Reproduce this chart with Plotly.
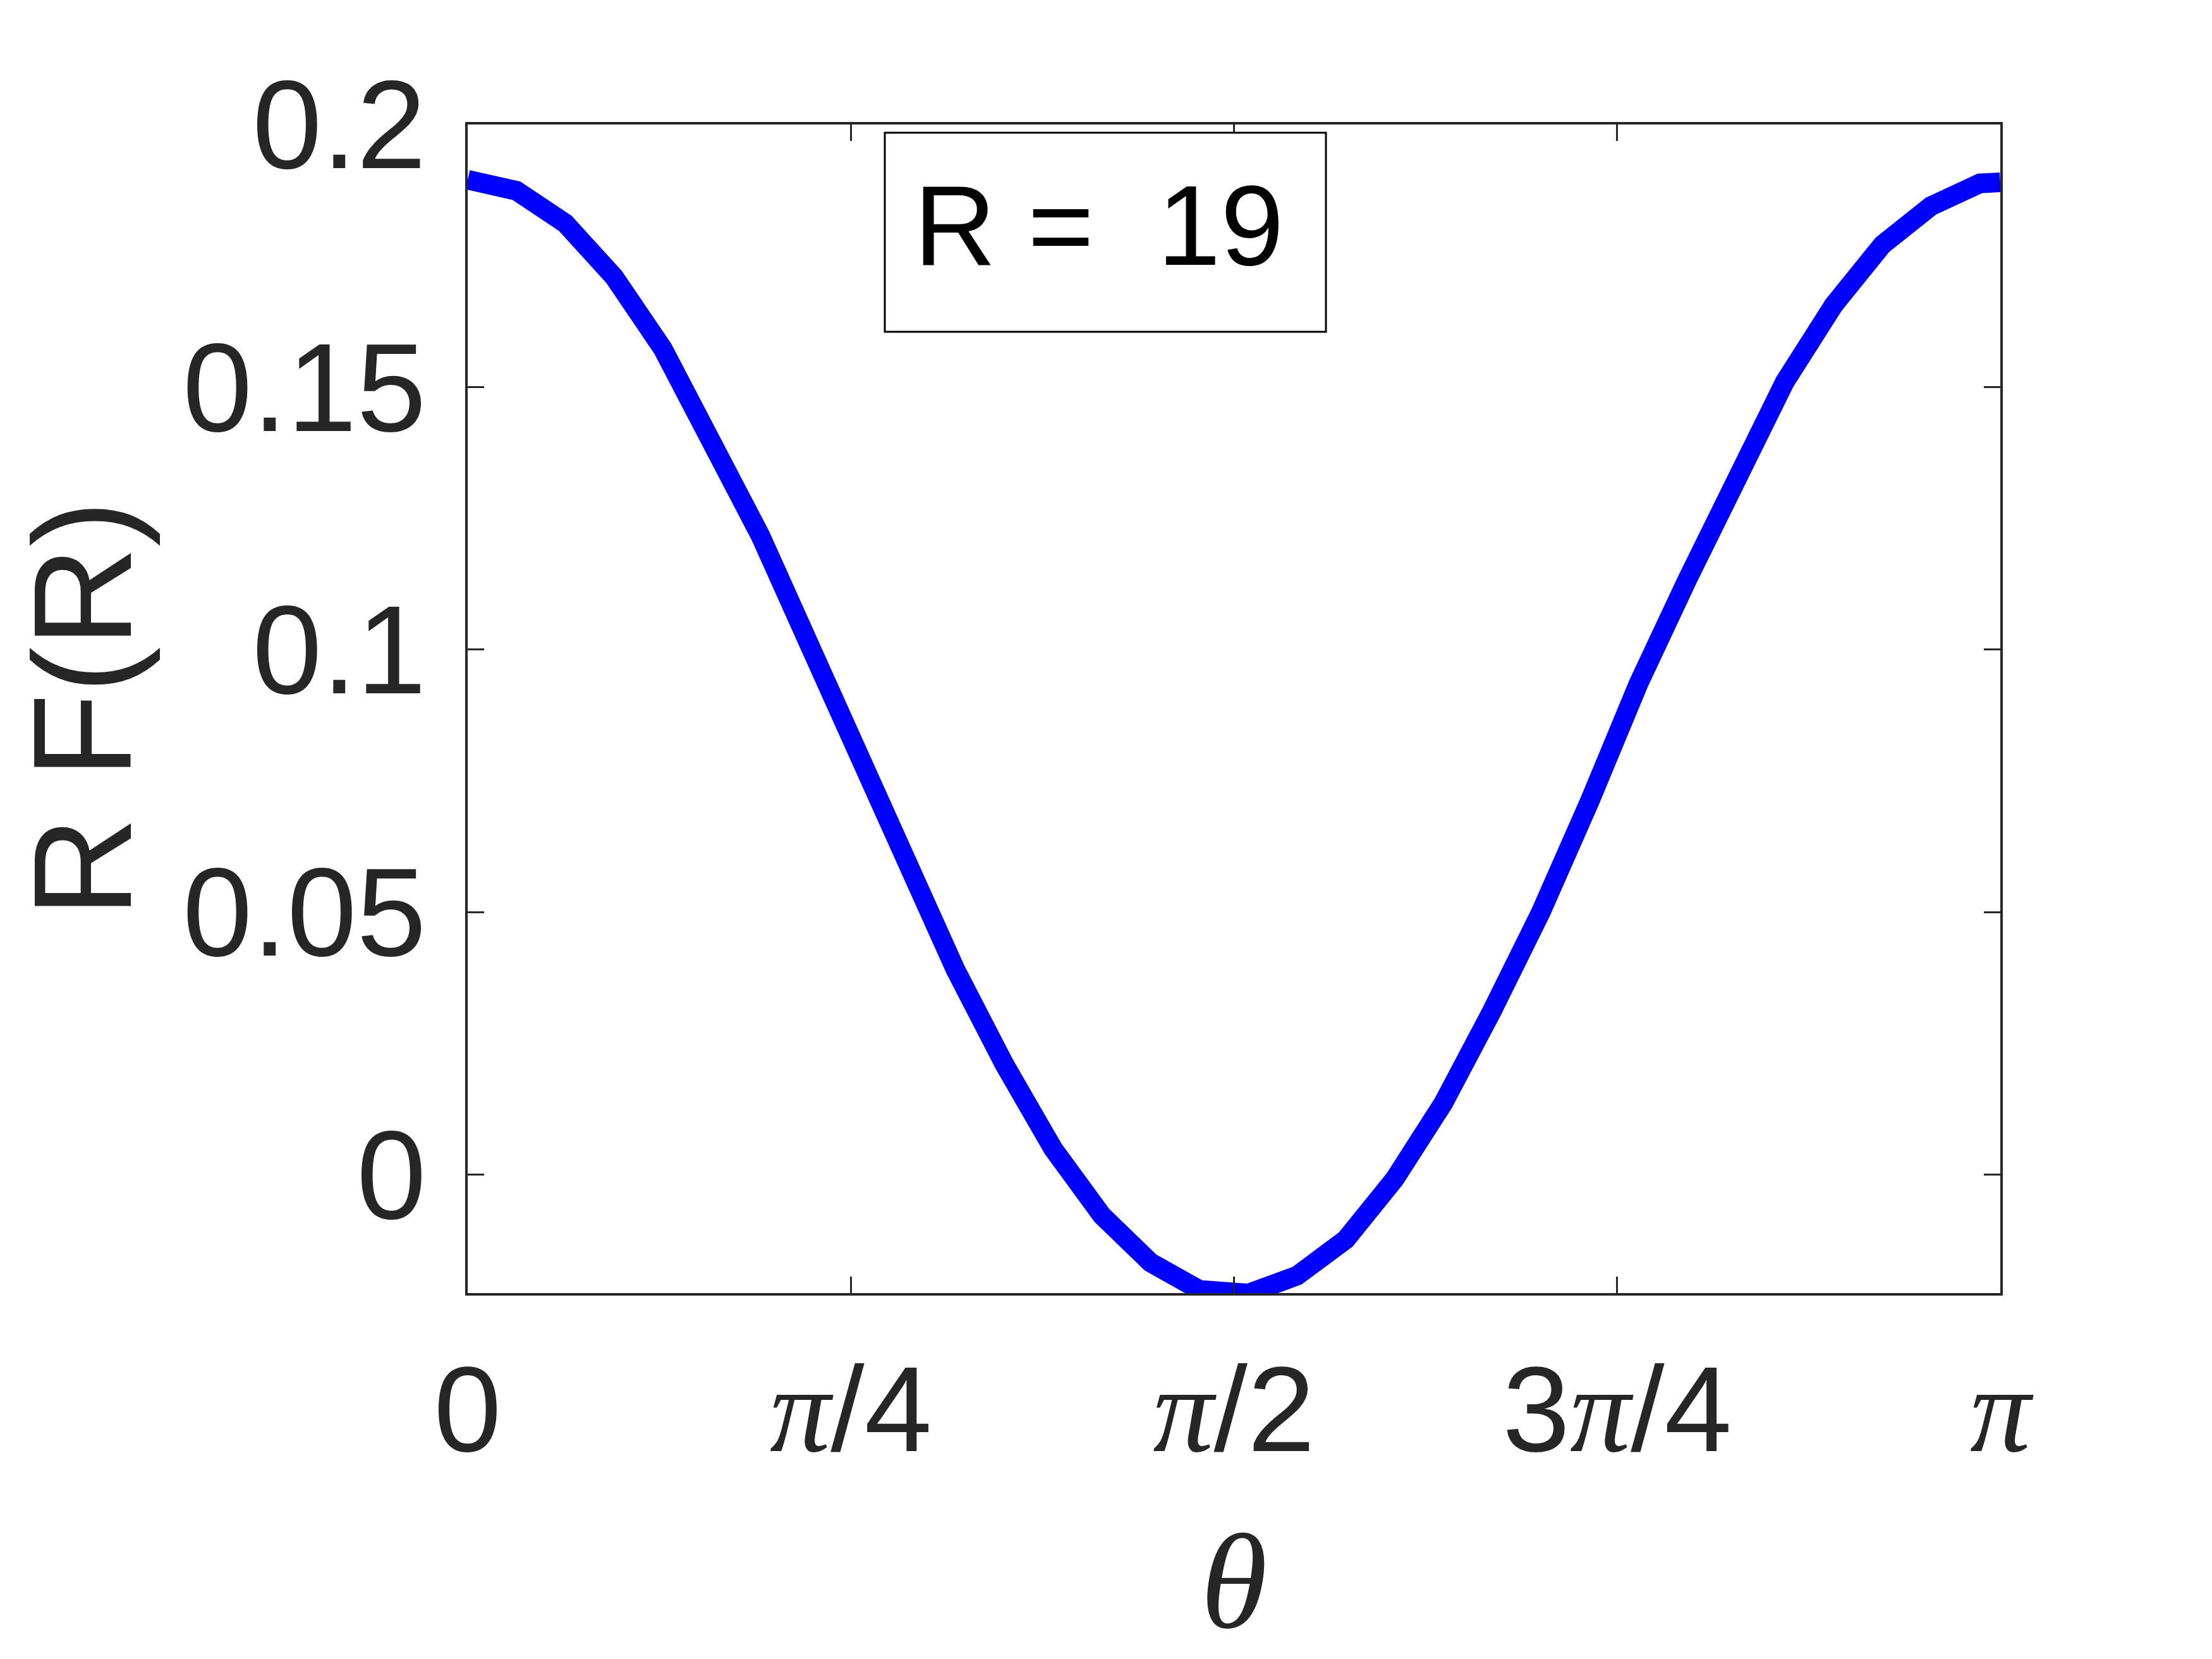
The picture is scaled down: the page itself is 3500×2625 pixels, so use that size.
import math
import plotly.graph_objects as go

theta = [0.0, 0.1, 0.2, 0.3, 0.4, 0.5, 0.6, 0.7, 0.8, 0.9, 1.0,
         1.1, 1.2, 1.3, 1.4, 1.5, 1.6, 1.7, 1.8, 1.9, 2.0,
         2.1, 2.2, 2.3, 2.4, 2.5, 2.6, 2.7, 2.8, 2.9, 3.0,
         3.1, math.pi]
rf = [0.1895, 0.1874, 0.1812, 0.1710, 0.1573, 0.1404, 0.1217, 0.1010, 0.0800, 0.0590, 0.0390,
      0.0210, 0.0049, -0.0078, -0.0168, -0.0220, -0.0227, -0.0193, -0.0124, -0.0009, 0.0136,
      0.0312, 0.0500, 0.0711, 0.0935, 0.1133, 0.1325, 0.1510, 0.1656, 0.1771, 0.1845,
      0.1888, 0.1890]

x_tickvals = [0, math.pi / 4, math.pi / 2, 3 * math.pi / 4, math.pi]
pi_span = '<span style="font-family:Liberation Serif;font-style:italic">π</span>'
x_ticktext = ['0', pi_span + '/4', pi_span + '/2', '3' + pi_span + '/4', pi_span]
y_tickvals = [0, 0.05, 0.1, 0.15, 0.2]
y_ticktext = ['0', '0.05', '0.1', '0.15', '0.2']

axis_color = '#262626'

# page layout in pixels
W, H = 3500, 2625
L, R, T, B = 732, 343, 189, 587


def px(xp):
    return (xp - L) / (W - L - R)


def py(yp):
    return 1 - (yp - T) / (H - T - B)


fig = go.Figure()
fig.add_trace(go.Scatter(x=theta, y=rf, mode='lines',
                         line=dict(color='#0000FF', width=31),
                         showlegend=False))

fig.update_layout(
    width=W,
    height=H,
    paper_bgcolor='white',
    plot_bgcolor='white',
    margin=dict(l=L, r=R, t=T, b=B),
    font=dict(family='Arial, Liberation Sans', color=axis_color, size=192),
    xaxis=dict(
        range=[0, math.pi],
        tickvals=x_tickvals,
        ticktext=x_ticktext,
        ticks='inside',
        ticklen=26,
        tickwidth=3,
        tickcolor=axis_color,
        showline=True,
        linewidth=4,
        linecolor=axis_color,
        mirror='ticks',
        showgrid=False,
        zeroline=False,
        ticklabelstandoff=16,
        title=dict(text='<i>θ</i>',
                   font=dict(family='Liberation Serif', size=215, color=axis_color),
                   standoff=88)
    ),
    yaxis=dict(
        range=[-0.0226, 0.20002],
        tickvals=y_tickvals,
        ticktext=y_ticktext,
        tickfont=dict(size=198),
        ticks='inside',
        ticklen=26,
        tickwidth=3,
        tickcolor=axis_color,
        showline=True,
        linewidth=4,
        linecolor=axis_color,
        mirror='ticks',
        showgrid=False,
        zeroline=False,
        ticklabelstandoff=22,
        title=dict(text='R F(R)', font=dict(size=220, color=axis_color), standoff=56)
    ),
    shapes=[dict(
        type='rect', xref='paper', yref='paper',
        x0=px(1392), x1=px(2090), y0=py(517), y1=py(202),
        line=dict(color='black', width=3),
        fillcolor='white', layer='above'
    )],
    annotations=[dict(
        text='R = &nbsp;19',
        xref='paper', yref='paper',
        x=px(1730), y=py(348),
        xanchor='center', yanchor='middle',
        showarrow=False,
        font=dict(family='Arial, Liberation Sans', size=180, color='black')
    )]
)

fig.write_html("out.html")
